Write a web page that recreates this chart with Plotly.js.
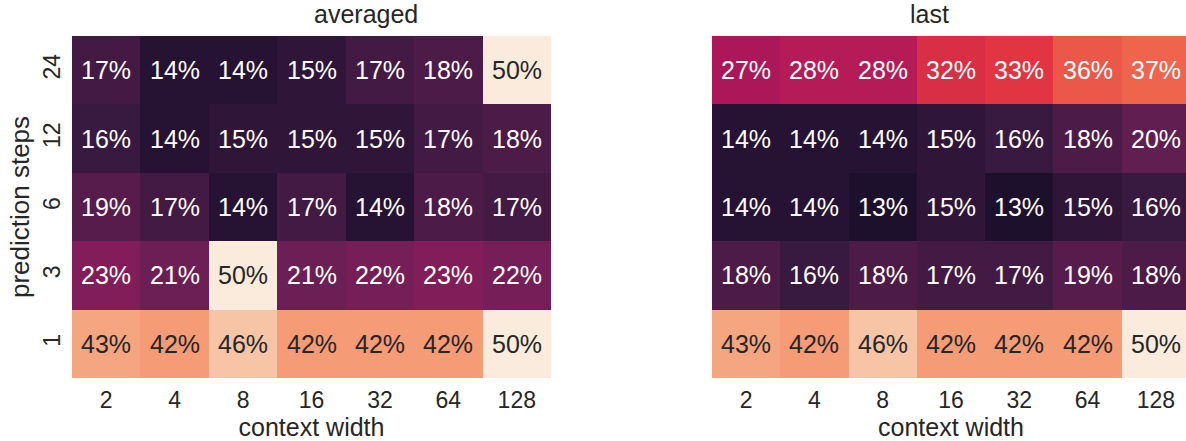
<!DOCTYPE html>
<html>
<head>
<meta charset="utf-8">
<script src="https://cdn.plot.ly/plotly-3.0.1.min.js"></script>
<style>
html,body{margin:0;padding:0;overflow:hidden;background:#fff;}
#chart{width:1200px;height:441px;}
</style>
</head>
<body>
<div id="chart"></div>
<script>
// ---- data ----
const contextWidths = ['2','4','8','16','32','64','128'];
const predictionSteps = ['1','3','6','12','24'];
// rows follow predictionSteps order (1,3,6,12,24)
const averagedRow1  = [0.43,0.42,0.46,0.42,0.42,0.42,0.50];
const averagedRow3  = [0.23,0.21,0.50,0.21,0.22,0.23,0.22];
const averagedRow6  = [0.19,0.17,0.14,0.17,0.14,0.18,0.17];
const averagedRow12 = [0.16,0.14,0.15,0.15,0.15,0.17,0.18];
const averagedRow24 = [0.17,0.14,0.14,0.15,0.17,0.18,0.50];
const lastRow1  = [0.43,0.42,0.46,0.42,0.42,0.42,0.50];
const lastRow3  = [0.18,0.16,0.18,0.17,0.17,0.19,0.18];
const lastRow6  = [0.14,0.14,0.13,0.15,0.13,0.15,0.16];
const lastRow12 = [0.14,0.14,0.14,0.15,0.16,0.18,0.20];
const lastRow24 = [0.27,0.28,0.28,0.32,0.33,0.36,0.37];
const panelTitles = ['averaged','last'];

const averaged = [averagedRow1,averagedRow3,averagedRow6,averagedRow12,averagedRow24];
const last = [lastRow1,lastRow3,lastRow6,lastRow12,lastRow24];

// seaborn "rocket"
const rocketStops = [
  [0.0,'#03051A'],[1/7,'#35193E'],[2/7,'#701F57'],[3/7,'#AD1759'],
  [4/7,'#E13342'],[5/7,'#F37651'],[6/7,'#F6B48F'],[1.0,'#FAEBDD']
];
const zmin = 0.10, zmax = 0.50;

function hex2rgb(h){return [parseInt(h.substr(1,2),16),parseInt(h.substr(3,2),16),parseInt(h.substr(5,2),16)];}
function colorAt(t){
  t=Math.max(0,Math.min(1,t));
  for(let i=0;i<rocketStops.length-1;i++){
    const [a,ca]=rocketStops[i],[b,cb]=rocketStops[i+1];
    if(t<=b){const f=(t-a)/(b-a);const A=hex2rgb(ca),B=hex2rgb(cb);return A.map((v,k)=>v+(B[k]-v)*f);}
  }
  return hex2rgb(rocketStops[rocketStops.length-1][1]);
}
function lum(rgb){
  const c=rgb.map(v=>{v/=255;return v<=0.03928?v/12.92:Math.pow((v+0.055)/1.055,2.4);});
  return 0.2126*c[0]+0.7152*c[1]+0.0722*c[2];
}

const FONT = 'Liberation Sans, Arial, sans-serif';
const DARK = '#262626';

const traces = [averaged,last].map((z,i)=>({
  type:'heatmap', z:z, x:contextWidths, y:predictionSteps,
  xaxis: i===0?'x':'x2', yaxis: i===0?'y':'y2',
  colorscale: rocketStops, zmin:zmin, zmax:zmax, showscale:false,
  hoverinfo:'skip', xgap:0, ygap:0
}));

const annotations = [];
[averaged,last].forEach((z,i)=>{
  z.forEach((row,r)=>row.forEach((v,c)=>{
    const col = colorAt((v-zmin)/(zmax-zmin));
    annotations.push({
      xref: i===0?'x':'x2', yref: i===0?'y':'y2',
      x: c, y: r,   // category index on the axes
      text: Math.round(v*100)+'%', showarrow:false,
      font:{family:FONT,size:25,color: lum(col)>0.408?DARK:'#ffffff'}
    });
  }));
});
const W=1200,H=441;
const dom1=[72/W,551/W], dom2=[712/W,1190/W];
const ydom=[(H-378)/H,(H-36)/H];
panelTitles.forEach((t,i)=>{
  const d = i===0?dom1:dom2;
  annotations.push({xref:'paper',yref:'paper',x:(d[0]+d[1])/2,y:ydom[1],yanchor:'bottom',
    yshift:6,text:t,showarrow:false,font:{family:FONT,size:25,color:DARK}});
});

const axCommon = {type:'category', showgrid:false, zeroline:false, showline:false,
  autorange:false, tickfont:{family:FONT,size:23,color:DARK}, fixedrange:true};
const xr=[-0.5, contextWidths.length-0.5], yr=[-0.5, predictionSteps.length-0.5];
const xTitle = {text:'context width',font:{family:FONT,size:25,color:DARK},standoff:13};
const xTicks = {ticks:'outside', ticklen:1, tickcolor:'rgba(0,0,0,0)'};

const layout = {
  width:W, height:H, margin:{l:0,r:0,t:0,b:0},
  paper_bgcolor:'#fff', plot_bgcolor:'#fff', font:{family:FONT,color:DARK},
  xaxis: Object.assign({},axCommon,xTicks,{domain:dom1, anchor:'y', range:xr, title:xTitle}),
  xaxis2: Object.assign({},axCommon,xTicks,{domain:dom2, anchor:'y2', range:xr, title:xTitle}),
  yaxis: Object.assign({},axCommon,{domain:ydom, anchor:'x', tickangle:-90, range:yr,
    ticks:'outside', ticklen:2, tickcolor:'rgba(0,0,0,0)',
    title:{text:'prediction steps',font:{family:FONT,size:26,color:DARK},standoff:1}}),
  yaxis2: Object.assign({},axCommon,{domain:ydom, anchor:'x2', range:yr, ticks:'', showticklabels:false}),
  annotations: annotations,
  showlegend:false
};
Plotly.newPlot('chart', traces, layout, {displayModeBar:false, staticPlot:true});
</script>
</body>
</html>
